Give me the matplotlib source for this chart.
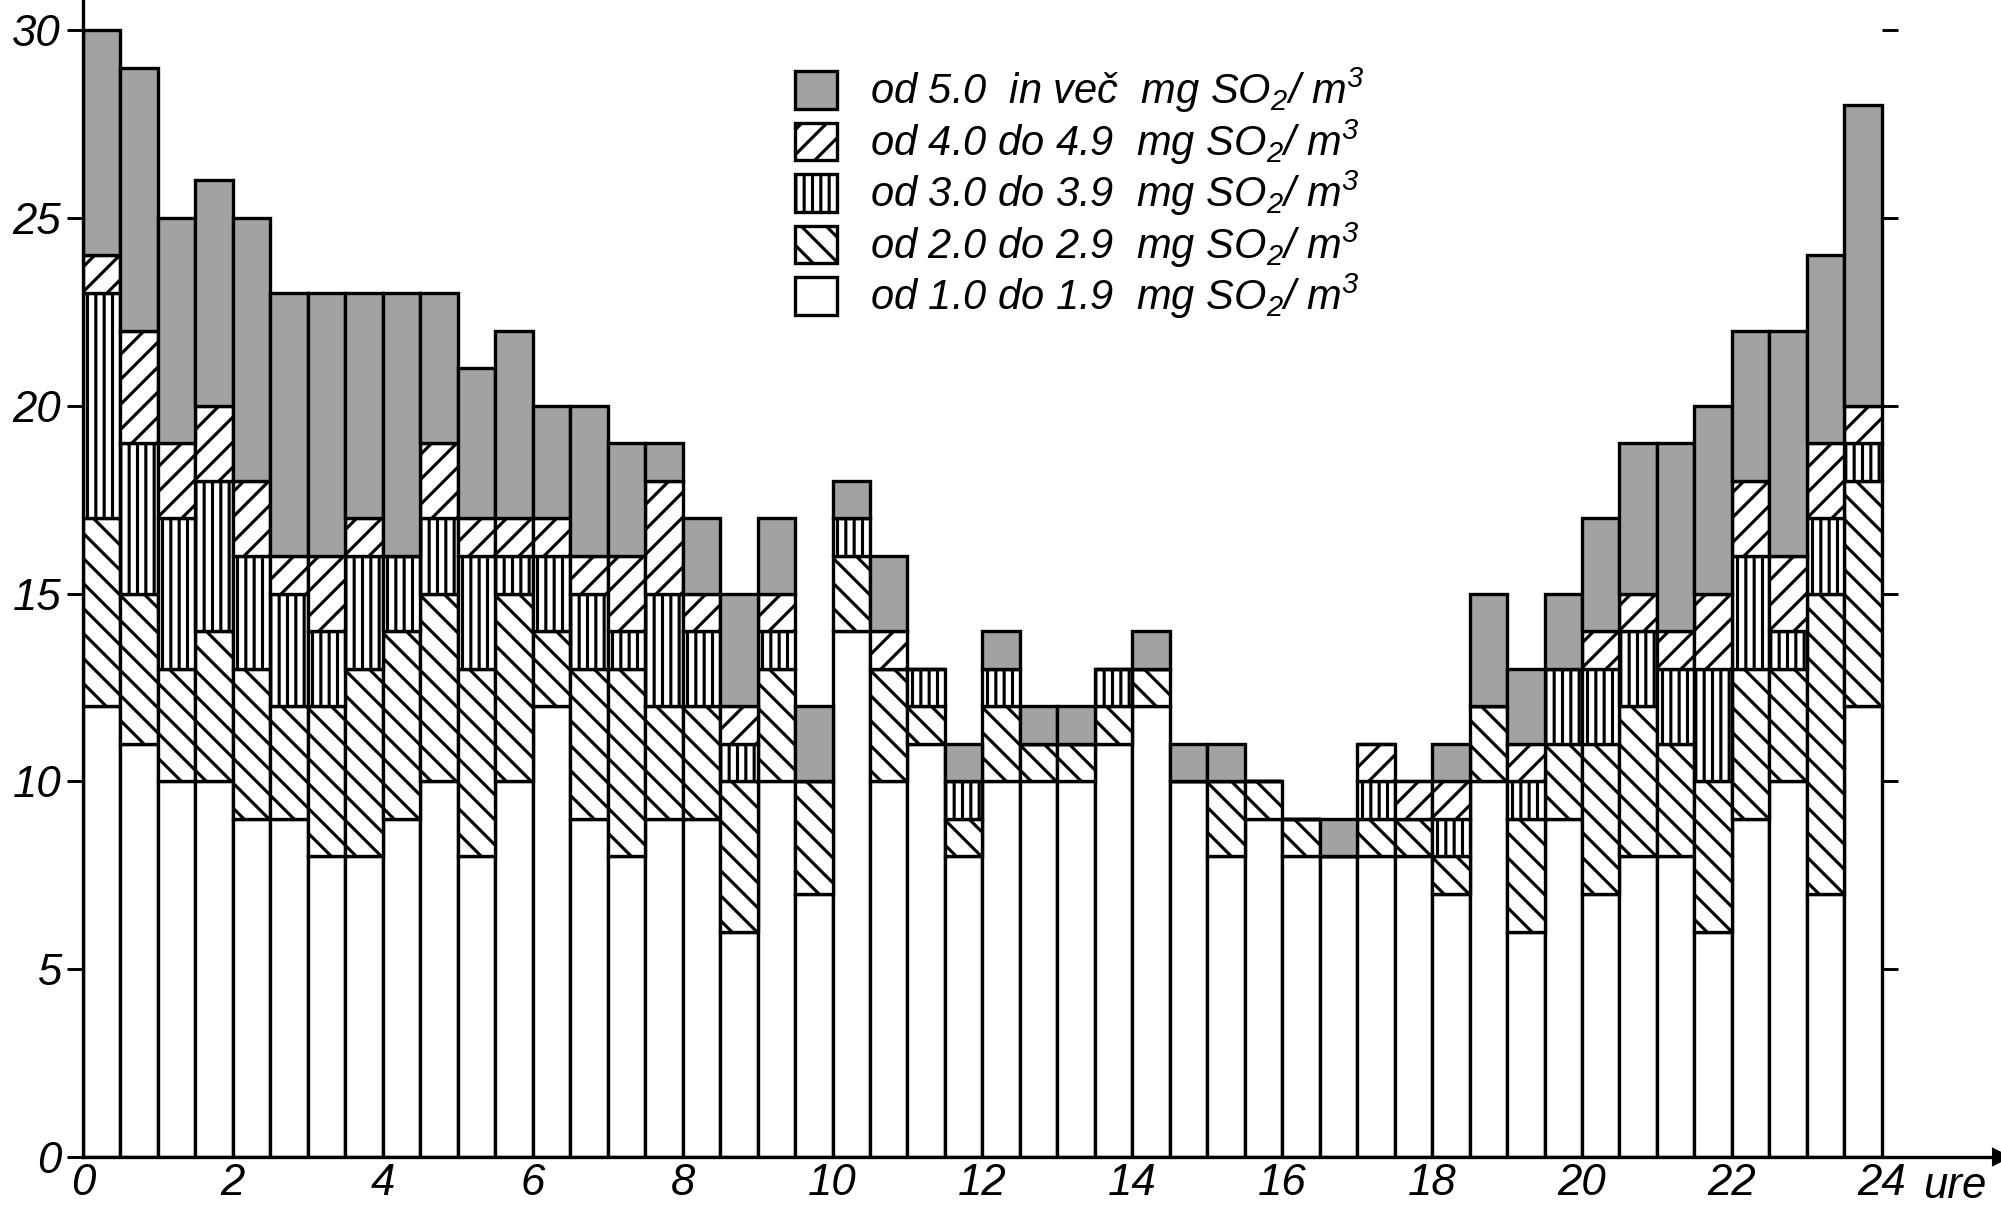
import numpy as np
import matplotlib
matplotlib.use("Agg")
import matplotlib.pyplot as plt
from matplotlib.patches import Patch

# half-hour intervals, 0.0 ... 23.5 h
hours = np.arange(48) * 0.5

# number of cases per concentration class (stacked from bottom)
c_1_19 = [12, 11, 10, 10, 9, 9, 8, 8, 9, 10, 8, 10, 12, 9, 8, 9, 9, 6, 10, 7, 14, 10, 11, 8,
          10, 10, 10, 11, 12, 10, 8, 9, 8, 8, 8, 8, 7, 10, 6, 9, 7, 8, 8, 6, 9, 10, 7, 12]
c_2_29 = [5, 4, 3, 4, 4, 3, 4, 5, 5, 5, 5, 5, 2, 4, 5, 3, 3, 4, 3, 3, 2, 3, 1, 1,
          2, 1, 1, 1, 1, 0, 2, 1, 1, 0, 1, 1, 1, 2, 3, 2, 4, 4, 3, 4, 4, 3, 8, 6]
c_3_39 = [6, 4, 4, 4, 3, 3, 2, 3, 2, 2, 3, 1, 2, 2, 1, 3, 2, 1, 1, 0, 1, 0, 1, 1,
          1, 0, 0, 1, 0, 0, 0, 0, 0, 0, 1, 0, 1, 0, 1, 2, 2, 2, 2, 3, 3, 1, 2, 1]
c_4_49 = [1, 3, 2, 2, 2, 1, 2, 1, 0, 2, 1, 1, 1, 1, 2, 3, 1, 1, 1, 0, 0, 1, 0, 0,
          0, 0, 0, 0, 0, 0, 0, 0, 0, 0, 1, 1, 1, 0, 1, 0, 1, 1, 1, 2, 2, 2, 2, 1]
c_5_up = [6, 7, 6, 6, 7, 7, 7, 6, 7, 4, 4, 5, 3, 4, 3, 1, 2, 3, 2, 2, 1, 2, 0, 1,
          1, 1, 1, 0, 1, 1, 1, 0, 0, 1, 0, 0, 1, 3, 2, 2, 3, 4, 5, 5, 4, 6, 5, 8]

labels = [
    "od 1.0 do 1.9  mg SO$_2$/ m$^3$",
    "od 2.0 do 2.9  mg SO$_2$/ m$^3$",
    "od 3.0 do 3.9  mg SO$_2$/ m$^3$",
    "od 4.0 do 4.9  mg SO$_2$/ m$^3$",
    "od 5.0  in več  mg SO$_2$/ m$^3$",
]
series = [c_1_19, c_2_29, c_3_39, c_4_49, c_5_up]
hatches = ["", "\\\\", "|||", "//", ""]
faces = ["white", "white", "white", "white", "#a2a2a2"]

y_ticks = [0, 5, 10, 15, 20, 25, 30]
x_ticks = [0, 2, 4, 6, 8, 10, 12, 14, 16, 18, 20, 22, 24]

fnt = ["Liberation Sans", "DejaVu Sans"]
plt.rcParams["hatch.linewidth"] = 1.5
plt.rcParams["mathtext.fontset"] = "custom"
plt.rcParams["mathtext.rm"] = "Liberation Sans:italic"
plt.rcParams["mathtext.it"] = "Liberation Sans:italic"

fig = plt.figure(figsize=(2001 / 150, 1207 / 150), dpi=150)
ax = fig.add_axes([83 / 2001, 50 / 1207, 1 - 83 / 2001, 1157 / 1207])

bottom = np.zeros(48)
for vals, h, fc in zip(series, hatches, faces):
    vals = np.array(vals)
    ax.bar(hours, vals, width=0.5, bottom=bottom, align="edge",
           facecolor=fc, edgecolor="black", hatch=h, linewidth=1.6)
    bottom += vals

ax.set_xlim(0, 25.59)
ax.set_ylim(0, 30.8)

ax.spines["top"].set_visible(False)
ax.spines["right"].set_visible(False)
ax.spines["left"].set_linewidth(1.6)
ax.spines["bottom"].set_linewidth(1.6)

ax.set_yticks(y_ticks)
ax.set_yticklabels([str(t) for t in y_ticks], family=fnt, style="italic", fontsize=21)
ax.tick_params(axis="y", length=7.5, width=1.4, pad=3)
ax.set_xticks(x_ticks)
ax.set_xticklabels([str(t) for t in x_ticks], family=fnt, style="italic", fontsize=21)
ax.tick_params(axis="x", length=0, pad=3)

# short ticks on the right side of the last bar
ax.hlines(y_ticks[1:], 24, 24.22, color="black", linewidth=1.4, clip_on=False)

# arrow on the time axis
ax.plot(1, 0, ">k", markersize=8, transform=ax.get_yaxis_transform(), clip_on=False)
ax.text(24.98, -0.25, "ure", family=fnt, style="italic", fontsize=21,
        ha="center", va="top")

handles = [Patch(facecolor=fc, edgecolor="black", hatch=h, linewidth=1.6)
           for h, fc in zip(hatches, faces)][::-1]
leg = ax.legend(handles, labels[::-1], loc="upper left",
                bbox_to_anchor=(795 / 2001, 1 - 66 / 1207), bbox_transform=fig.transFigure,
                frameon=False, borderpad=0, borderaxespad=0,
                handlelength=1.0, handleheight=1.0, handletextpad=0.8, labelspacing=0.05,
                prop={"family": fnt, "style": "italic", "size": 20})

fig.savefig("out.png", dpi=150)
